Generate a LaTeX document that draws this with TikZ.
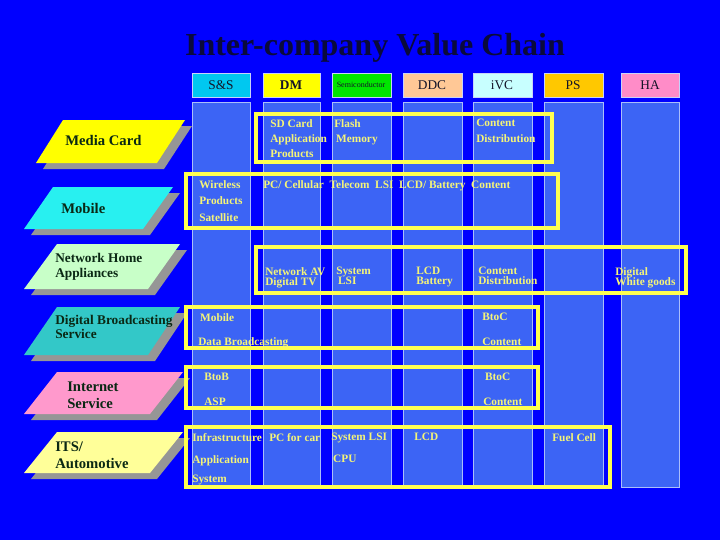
\documentclass[tikz,border=0pt]{standalone}
\usepackage{fontspec}
\setmainfont{Liberation Serif}
\definecolor{bg}{RGB}{0,0,255}
\definecolor{colf}{RGB}{60,100,245}
\definecolor{cold}{RGB}{170,190,250}
\definecolor{hdd}{RGB}{200,210,250}
\definecolor{yb}{RGB}{255,255,80}
\definecolor{yt}{RGB}{245,245,120}
\definecolor{ht}{RGB}{20,20,40}
\definecolor{lt}{RGB}{10,40,20}
\definecolor{sh}{RGB}{150,150,150}
\definecolor{tt}{RGB}{10,10,60}
\definecolor{h1}{RGB}{0,200,240}
\definecolor{h2}{RGB}{255,255,0}
\definecolor{h3}{RGB}{0,230,0}
\definecolor{h4}{RGB}{255,200,150}
\definecolor{h5}{RGB}{200,255,255}
\definecolor{h6}{RGB}{255,200,0}
\definecolor{h7}{RGB}{255,140,200}
\begin{document}
\begin{tikzpicture}[x=0.75pt,y=-0.75pt,
  colbar/.style={fill=colf,draw=cold,line width=0.6pt},
  hdr/.style={draw=hdd,line width=0.6pt},
  ybox/.style={draw=yb,line width=2.5pt},
  ytxt/.style={text=yt,font=\fontsize{8.5}{8.5}\selectfont\bfseries,anchor=north west,inner sep=0pt,align=left},
  htxt/.style={font=\fontsize{10}{10}\selectfont,text=ht},
  ltxt/.style={font=\fontsize{10}{11}\selectfont\bfseries,text=lt,anchor=west,align=left,inner sep=0pt},
  shad/.style={fill=sh}]
\fill[bg] (0,0) rectangle (720,540);
\useasboundingbox (0,0) rectangle (720,540);
\node[font=\fontsize{24}{24}\selectfont\bfseries,text=tt] (title) at (375,48) {Inter-company Value Chain};
% columns
\foreach \a/\b in {192/250,263/320,332/391,403/462,473/532,544/603,621/679}{
  \filldraw[colbar] (\a,102) rectangle (\b,487);}
% headers
\filldraw[hdr,fill=h1] (192,73) rectangle (250,97);
\filldraw[hdr,fill=h2] (263,73) rectangle (320,97);
\filldraw[hdr,fill=h3] (332,73) rectangle (391,97);
\filldraw[hdr,fill=h4] (403,73) rectangle (462,97);
\filldraw[hdr,fill=h5] (473,73) rectangle (532,97);
\filldraw[hdr,fill=h6] (544,73) rectangle (603,97);
\filldraw[hdr,fill=h7] (621,73) rectangle (679,97);
\node[htxt] (hss) at (221,85) {S\&S};
\node[htxt,font=\fontsize{10}{10}\selectfont\bfseries] (hdm) at (291,85) {DM};
\node[htxt,font=\fontsize{6}{6}\selectfont] (hsc) at (361,85) {Semiconductor};
\node[htxt] (hddc) at (432,85) {DDC};
\node[htxt] (hivc) at (502,85) {iVC};
\node[htxt] (hps) at (573,85) {PS};
\node[htxt] (hha) at (650,85) {HA};
% left parallelograms
\foreach \t/\b/\tl/\tr/\bl/\br/\c [count=\i] in {
 120/163/63/185/36/157/{255,255,0},
 187/229/53/173/24/143/{40,240,240},
 244/289/57/180/24/148/{200,255,200},
 307/355/57/180/24/148/{51,200,200},
 372/414/57/183/24/150/{255,153,204},
 432/473/57/183/24/150/{255,255,153}}{
  \fill[shad] (\tl+7,\t+6) -- (\tr+7,\t+6) -- (\br+7,\b+6) -- (\bl+7,\b+6) -- cycle;
  \definecolor{pc\i}{RGB}{\c}
  \fill[pc\i] (\tl,\t) -- (\tr,\t) -- (\br,\b) -- (\bl,\b) -- cycle;}
\node[ltxt,font=\fontsize{11}{12}\selectfont\bfseries] (lmc) at (65,140) {Media Card};
\node[ltxt,font=\fontsize{11}{12}\selectfont\bfseries] (lmo) at (61,208) {Mobile};
\node[ltxt] (lnh) at (55,267) {Network Home\\Appliances};
\node[ltxt] (ldb) at (55,327) {Digital Broadcasting\\Service};
\node[ltxt,font=\fontsize{11}{13}\selectfont\bfseries] (lis) at (67,395) {Internet\\Service};
\node[ltxt,font=\fontsize{11}{13}\selectfont\bfseries] (lits) at (55,455) {ITS/\\Automotive};
% yellow boxes
\draw[ybox] (256,114) rectangle (552,162);
\draw[ybox] (186,174) rectangle (558,228);
\draw[ybox] (256,247) rectangle (686,293);
\draw[ybox] (186,307) rectangle (538,348);
\draw[ybox] (186,367) rectangle (538,408);
\draw[ybox] (186,427) rectangle (610,487);
% texts
\node[ytxt] (t1) at (270,119) {SD Card\\[3pt]Application\\[3pt]Products};
\node[ytxt] (t2) at (334,119) {Flash\\[3pt]\,Memory};
\node[ytxt] (t3) at (476,119) {Content\\[3pt]Distribution};
\node[ytxt] (t4) at (199,180) {Wireless\\[4pt]Products\\[4pt]Satellite};
\node[ytxt] (t5) at (263,180) {PC/ Cellular\ \ Telecom\ \ LSI\ \ LCD/ Battery\ \ Content};
\node[ytxt] (t6) at (265,267) {Network AV\\[-1pt]Digital TV};
\node[ytxt] (t7) at (336,267) {System\\[-1pt]\,LSI};
\node[ytxt] (t8) at (416,267) {LCD\\[-1pt]Battery};
\node[ytxt] (t9) at (478,267) {Content\\[-1pt]Distribution};
\node[ytxt] (t10) at (615,267) {Digital\\[-1pt]White goods};
\node[ytxt] (t11) at (198,313) {\,Mobile\\[10pt]Data Broadcasting};
\node[ytxt] (t12) at (482,313) {BtoC\\[10pt]Content};
\node[ytxt] (t13) at (204,373) {BtoB\\[10pt]ASP};
\node[ytxt] (t14) at (483,373) {\,BtoC\\[10pt]Content};
\node[ytxt] (t15) at (192,433) {Infrastructure\\[8pt]Application\\[6pt]System};
\node[ytxt] (t16) at (269,433) {PC for car};
\node[ytxt] (t17) at (331,433) {System LSI\\[8pt]\,CPU};
\node[ytxt] (t18) at (414,433) {LCD};
\node[ytxt] (t19) at (552,433) {Fuel Cell};
\end{tikzpicture}
\end{document}
